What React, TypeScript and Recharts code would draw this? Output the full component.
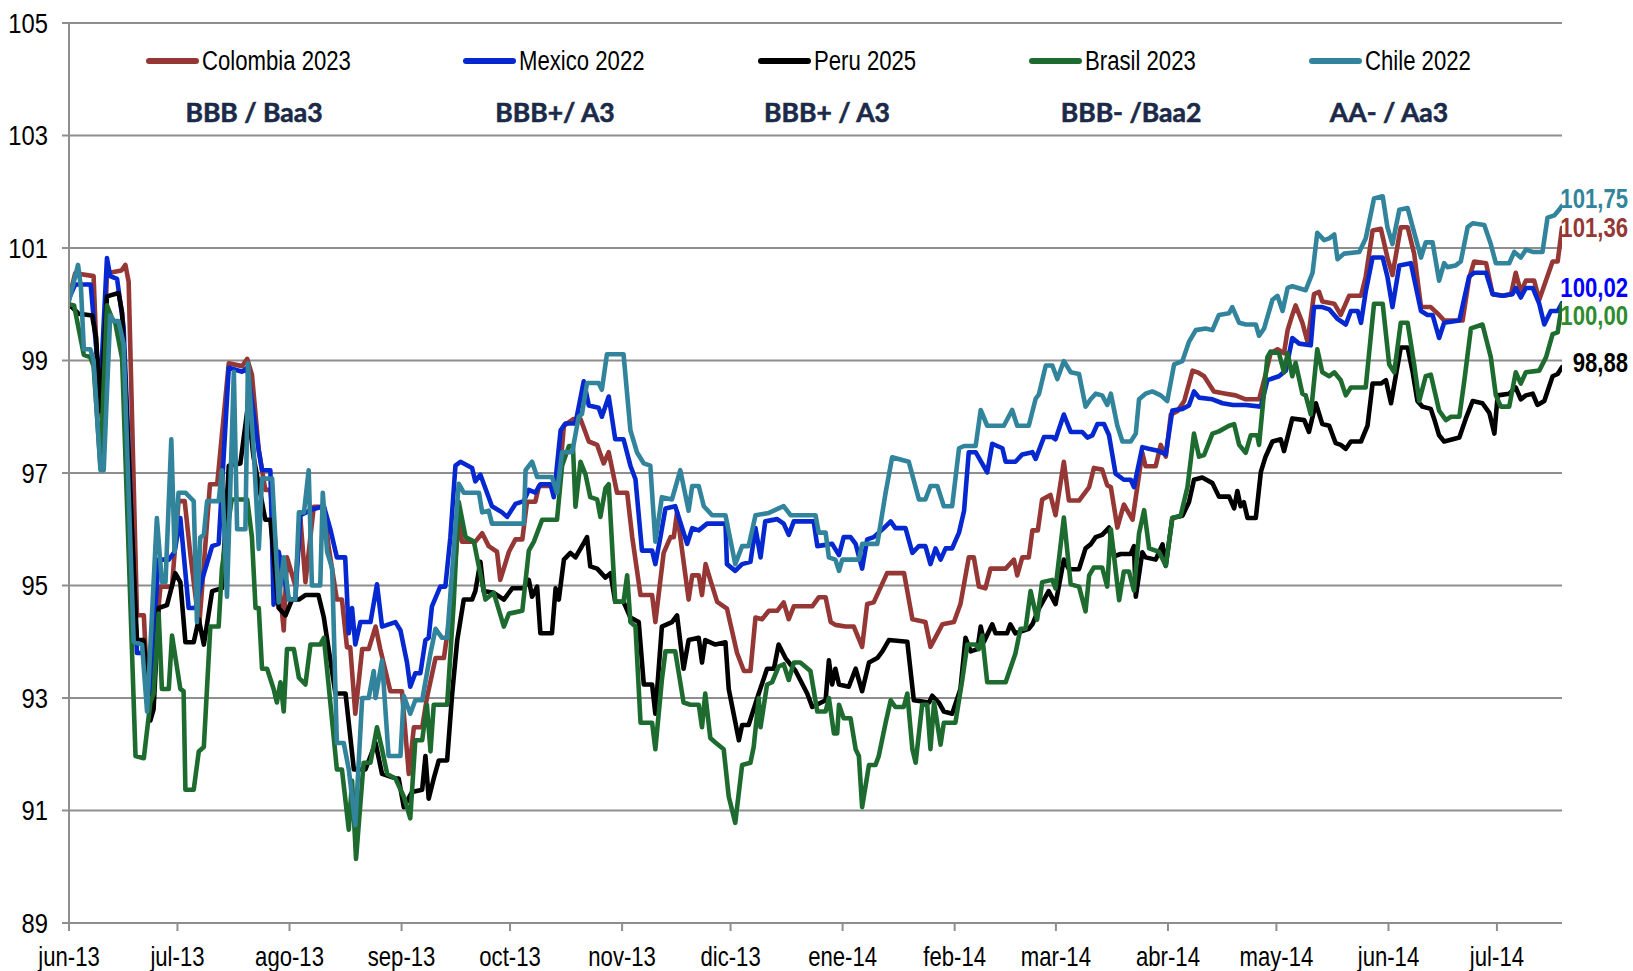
import React from "react";
import { LineChart, Line, XAxis, YAxis, CartesianGrid, LabelList } from "recharts";

const W = 1633;
const H = 971;
const SANS = "'Liberation Sans', Arial, sans-serif";
const NARROW_SCALE = 0.82;

type P = [number, number];

// x = days since 1 jun 2013
const monthTicks = [0, 30, 61, 92, 122, 153, 183, 214, 245, 273, 304, 334, 365, 395];
const monthLabels = ["jun-13", "jul-13", "ago-13", "sep-13", "oct-13", "nov-13", "dic-13", "ene-14", "feb-14", "mar-14", "abr-14", "may-14", "jun-14", "jul-14"];
const yTicks = [89, 91, 93, 95, 97, 99, 101, 103, 105];

const seriesNames = ["Colombia 2023", "Mexico 2022", "Peru 2025", "Brasil 2023", "Chile 2022"];
const ratingLabels = ["BBB / Baa3", "BBB+/ A3", "BBB+ / A3", "BBB- /Baa2", "AA- / Aa3"];

const colombia: P[] = [[0,100.1],[1.7,100.55],[6.8,100.5],[7.7,99.0],[9,98.0],[10.5,100.55],[14.5,100.6],[15.6,100.7],[16.5,100.4],[18.8,94.47],[20.7,94.47],[22,92.76],[25.3,94.98],[28.5,94.98],[30.3,96.5],[32,96.5],[33.6,95.54],[36,94.27],[39,96.8],[41,96.8],[44.2,98.95],[47.9,98.9],[49.3,99.03],[50.6,98.75],[52.5,97.4],[54.3,96.7],[55.7,96.7],[59.4,94.2],[60.3,95.5],[62.6,95.0],[64,96.2],[65.4,95.06],[67.7,96.4],[70.5,96.4],[71.8,95.7],[74.1,94.75],[75.5,94.75],[76.9,93.9],[77.8,93.9],[79.2,92.72],[81.1,93.87],[82.9,93.87],[84.8,94.27],[86.1,93.87],[88.9,93.12],[92.1,93.12],[94,91.65],[95.4,92.48],[97.7,92.48],[99,93.0],[101.4,93.71],[103.7,93.71],[106,94.75],[107.8,96.17],[108.7,95.78],[112.4,95.78],[114.3,95.93],[116.1,95.7],[118.4,95.6],[119.3,95.1],[121.7,95.6],[123.5,95.82],[125.4,95.82],[126.7,96.49],[129,96.49],[130,96.77],[133.6,96.77],[135.5,96.8],[136.9,97.84],[139.6,97.96],[141.5,97.96],[143.8,97.56],[146.1,97.5],[147.9,97.17],[149.3,97.37],[151.6,96.65],[154.4,96.65],[155.8,95.86],[158.1,94.83],[161.3,94.83],[162.2,94.35],[164.5,95.58],[166.4,95.86],[167.3,95.86],[168.2,96.3],[171.4,94.75],[172.4,95.18],[174.2,95.18],[175.1,94.83],[176.1,95.38],[177.4,95.1],[179.3,94.71],[182,94.59],[184.8,93.8],[186.7,93.48],[188.5,93.48],[189.9,94.43],[191.7,94.4],[193.6,94.55],[195.9,94.55],[197.7,94.7],[199.1,94.4],[200.5,94.63],[205.6,94.63],[207.4,94.79],[209.3,94.79],[210.7,94.35],[212,94.3],[214.8,94.27],[217.1,94.27],[219.4,93.91],[220.8,94.67],[222.6,94.7],[226.3,95.22],[231,95.22],[233.3,94.4],[236.9,94.35],[238.3,93.91],[241.6,94.31],[244.8,94.35],[246.6,94.67],[248.9,95.5],[250.3,95.5],[251.7,94.98],[253.5,94.95],[254.9,95.3],[259.1,95.3],[261.4,95.46],[262.3,95.18],[263.7,95.5],[265.5,95.5],[266.5,95.98],[268,95.98],[269.2,96.53],[271.5,96.61],[272.9,96.25],[275.2,97.2],[276.6,96.51],[279.4,96.51],[282.2,96.75],[283.5,97.09],[285.8,97.06],[287.2,96.78],[288.2,96.75],[290,96.03],[291.8,96.44],[294.2,96.17],[296.9,97.36],[297.8,97.12],[300.6,97.12],[302,97.5],[303.4,97.29],[304.8,98.04],[306.6,98.1],[308.5,98.28],[310.8,98.82],[312.2,98.79],[314,98.72],[316.7,98.45],[320,98.41],[322.7,98.38],[325.5,98.31],[329.2,98.31],[330.6,98.65],[332.4,99.13],[334.3,99.2],[336.1,99.13],[337.1,99.54],[338.4,99.81],[339.3,99.98],[341.2,99.67],[342.6,99.33],[344.4,100.18],[345.8,100.22],[346.7,100.05],[350,100.01],[351.8,99.81],[354.1,100.15],[357.4,100.15],[358.7,100.49],[360.6,101.31],[362.9,101.34],[364.7,100.83],[366.1,100.52],[368.4,101.37],[370.3,101.37],[372.1,100.9],[374,99.95],[376.7,99.95],[379,99.81],[380.4,99.71],[385.5,99.71],[387.3,100.46],[388.7,100.76],[392,100.73],[393.8,100.18],[396.6,100.15],[398.9,100.18],[400.2,100.56],[401.6,100.22],[403,100.42],[405.3,100.42],[406.7,100.08],[410.4,100.76],[411.8,100.76],[413,101.36]];

const mexico: P[] = [[0,100.1],[1.7,100.35],[6,100.35],[7.7,99.1],[8.7,98.5],[10.5,100.82],[11.4,100.5],[13.3,100.45],[15.1,99.6],[18.8,93.8],[21,93.8],[22,92.85],[24.8,95.46],[27.6,95.46],[29.2,95.6],[30.8,96.2],[33.1,94.6],[35,94.6],[36.8,95.1],[39.6,95.7],[41.4,95.74],[44.2,98.87],[47.9,98.8],[49.3,98.87],[52.5,97.4],[53.4,97.05],[55.7,97.05],[56.6,94.66],[58,95.6],[60.8,94.75],[62.6,94.75],[64,96.25],[67.2,96.35],[70.5,96.41],[72.3,96.0],[74.1,95.5],[76.4,95.5],[77.4,94.15],[78.3,94.6],[79.2,93.95],[80.6,94.35],[83.4,94.35],[85.2,95.02],[86.6,94.27],[90.3,94.35],[91.7,94.2],[93.5,93.63],[94.4,93.2],[95.8,93.44],[97.2,93.44],[98.6,94.03],[99.5,94.07],[100.4,94.63],[102.7,94.98],[104.1,94.98],[105.5,95.86],[106.9,97.13],[108.3,97.2],[111.5,97.09],[112.4,96.85],[113.8,96.97],[117,96.41],[119.8,96.3],[121.2,96.22],[123.5,96.45],[125.8,96.5],[127.2,96.7],[129,96.65],[130.4,96.8],[133.2,96.8],[134.1,96.57],[136,97.76],[137.3,97.88],[140.1,97.88],[142.4,98.63],[143.8,98.2],[146.5,98.16],[147.4,98.0],[149.3,98.36],[151.1,97.6],[153.4,97.6],[155.3,97.13],[156.7,96.89],[158.5,95.62],[161.3,95.62],[162.2,95.38],[163.6,95.86],[165,96.37],[167.7,96.41],[171,95.74],[172.4,96.02],[174.2,95.98],[176.5,96.1],[181.6,96.1],[182,95.38],[184.3,95.26],[186.2,95.38],[188.5,95.42],[189.9,96.02],[191.3,95.5],[192.6,96.14],[195.9,96.18],[197.7,96.1],[199.1,95.9],[200.5,96.14],[206,96.14],[207,95.7],[211.1,95.74],[213,95.54],[214.3,95.86],[216.2,95.86],[217.6,95.74],[219.4,95.3],[220.8,95.82],[222.6,95.86],[225.4,96.02],[227.3,96.14],[228.6,96.02],[231.4,96.02],[233.3,95.58],[235.1,95.7],[236.9,95.7],[238.3,95.38],[239.7,95.66],[241.1,95.46],[242.5,95.66],[244.3,95.66],[246.2,95.94],[247.6,96.33],[248.9,97.37],[250.8,97.37],[254,97.01],[255.4,97.52],[258.2,97.44],[259.1,97.2],[261.8,97.2],[263.7,97.33],[266.5,97.37],[267.4,97.25],[269.7,97.64],[272,97.64],[272.9,97.6],[275.2,98.04],[277.1,97.73],[280.3,97.73],[281.7,97.63],[283.1,97.67],[284.5,97.87],[286.3,97.87],[287.7,97.67],[289.5,96.99],[291.8,96.88],[293.7,96.88],[294.6,96.75],[296.9,97.46],[298.7,97.43],[301.5,97.39],[303.4,97.33],[305.2,98.11],[308,98.14],[309.8,98.2],[311.2,98.45],[312.6,98.34],[316.3,98.31],[319.1,98.24],[322,98.21],[325.5,98.21],[329.7,98.18],[331.5,98.65],[334.7,98.72],[336.6,98.82],[338.4,99.4],[340.3,99.3],[343.5,99.27],[344.4,99.95],[346.7,99.95],[348.6,99.91],[350.9,99.74],[353.2,99.64],[354.6,99.88],[356.5,99.88],[357.4,99.67],[358.7,100.22],[360.6,100.83],[363.4,100.83],[364.7,100.49],[366.1,99.95],[368,100.69],[371.2,100.73],[374,99.88],[375.8,99.81],[377.2,99.81],[379,99.4],[380.4,99.67],[384.6,99.71],[387.3,100.49],[388.7,100.56],[392,100.56],[393.8,100.18],[396.6,100.15],[399.3,100.18],[400.2,100.29],[401.6,100.12],[403,100.29],[404.9,100.29],[406.7,100.01],[408.1,99.64],[409.9,99.88],[411.8,99.88],[413,100.02]];

const peru: P[] = [[0,100.0],[2.7,99.83],[6.4,99.8],[7.5,99.4],[8.7,98.1],[10.5,100.14],[13.7,100.2],[14.7,99.85],[18.8,94.03],[20.7,94.03],[22.5,92.6],[23.4,92.8],[24.8,94.6],[27.1,94.65],[29.4,95.22],[30.8,95.06],[32.2,93.99],[34.5,93.99],[35.9,94.4],[37.3,93.95],[39.6,94.9],[42.3,94.95],[44.2,97.13],[47.4,97.17],[49.5,98.2],[51,97.3],[54.3,96.17],[55.7,96.17],[58,94.6],[59.9,94.47],[61.7,94.75],[63.6,94.75],[65.4,94.83],[69,94.83],[70.5,94.43],[73.7,93.08],[76.5,93.08],[78.8,91.73],[82,91.73],[84.8,92.2],[86.6,91.65],[90.3,91.57],[91.2,91.57],[92.6,91.06],[94.9,91.33],[97.7,91.37],[98.6,91.97],[99.5,91.21],[100.9,91.57],[102.3,91.89],[104.6,91.89],[106,93.08],[107.4,94.03],[109.2,94.75],[111.5,94.75],[112.4,94.9],[113.8,95.42],[114.7,94.9],[117.5,94.87],[120.3,94.75],[122.6,94.95],[125.8,94.95],[127.2,95.1],[128.1,94.8],[129.5,94.98],[130.4,94.15],[133.6,94.15],[134.6,94.95],[135.5,94.75],[136.9,95.46],[138.7,95.58],[140.1,95.5],[141.9,95.7],[143.3,95.86],[144.2,95.34],[146.1,95.3],[148.4,95.14],[149.8,95.22],[151.1,94.71],[153.4,94.71],[155.3,94.43],[157.6,94.35],[159,93.24],[161.3,93.24],[162.2,92.72],[164,94.27],[166.8,94.35],[168.2,94.47],[170,93.52],[171.4,94.03],[174.2,94.07],[175.1,93.63],[176,94.03],[178.8,93.95],[181.6,93.99],[182.5,93.16],[185.3,92.25],[186.2,92.52],[188,92.52],[190.8,93.08],[193.1,93.52],[195,93.52],[196.3,93.95],[198.2,93.71],[201,93.48],[204.2,93.08],[205.6,92.84],[209.3,92.96],[210.2,93.67],[211.1,93.24],[212,93.52],[213,93.24],[215.7,93.2],[217.6,93.52],[219.4,93.12],[221.3,93.63],[223.6,93.71],[225,93.83],[226.8,94.03],[231.9,94.0],[233.7,92.96],[237.9,92.92],[238.8,93.04],[240.6,92.92],[242,92.76],[244.3,92.72],[246.6,93.16],[248,94.07],[249.4,93.83],[251.3,93.87],[252.2,94.27],[253.1,94.0],[255.4,94.31],[256.3,94.15],[259.5,94.15],[260.4,94.31],[261.8,94.15],[265.5,94.23],[266.5,94.31],[268.3,94.59],[271,94.9],[272.9,94.67],[275.2,95.46],[276.6,95.29],[279.4,95.29],[281.2,95.66],[282.6,95.73],[284,95.86],[285.8,95.9],[287.7,96.03],[289.1,95.52],[290.9,95.56],[293.7,95.56],[294.6,95.7],[295.1,94.8],[296.9,95.59],[297.8,95.5],[300.6,95.46],[302.5,95.73],[303.4,95.35],[305.2,96.2],[308,96.24],[309.8,96.48],[311.2,96.88],[313.5,96.92],[316.3,96.82],[318.1,96.58],[320.9,96.58],[322.3,96.37],[323.2,96.68],[324.1,96.41],[325,96.48],[326,96.2],[328.3,96.2],[329.7,97.02],[331,97.29],[332.9,97.56],[335.2,97.6],[336.1,97.39],[338.4,97.97],[341.7,97.94],[343,97.73],[344.9,98.24],[346.7,97.87],[348.6,97.84],[350.4,97.53],[351.8,97.5],[353.2,97.43],[354.6,97.56],[357.4,97.56],[359.2,97.84],[360.6,98.59],[362.9,98.59],[364.3,98.65],[365.7,98.24],[367,98.72],[368.4,99.23],[370.3,99.23],[371.7,98.79],[373,98.28],[374.4,98.18],[376.7,98.14],[377.6,97.97],[379,97.67],[380.4,97.56],[384.6,97.63],[386.4,97.97],[388.3,98.28],[391,98.24],[392.9,98.07],[394.3,97.7],[395.2,98.38],[398.4,98.41],[400.2,98.52],[401.6,98.31],[403,98.38],[404.9,98.41],[406.2,98.21],[408.1,98.28],[410.4,98.72],[411.8,98.76],[413,98.88]];

const brasil: P[] = [[0,100.0],[1.4,99.98],[4.1,99.1],[5.9,99.06],[6.8,98.9],[8.7,97.13],[10.5,99.98],[11.9,99.75],[12.8,99.67],[14.7,99.03],[18.4,91.97],[20.7,91.93],[22.5,92.92],[23.4,93.08],[24.8,94.5],[25.7,93.16],[27.6,93.16],[28.5,94.11],[30.8,93.16],[31.7,93.12],[32.2,91.37],[34.5,91.37],[35.9,92.05],[37.3,92.13],[39.1,94.27],[41.4,94.27],[42.3,95.3],[45,96.53],[49.3,96.53],[50.6,95.86],[51.6,94.6],[52.5,94.6],[53.4,93.52],[54.8,93.52],[56.6,93.16],[57.5,92.92],[58.5,93.28],[59.4,92.76],[60.3,93.87],[62.2,93.87],[63.6,93.36],[65.4,93.24],[66.8,93.95],[69.5,93.95],[70.5,94.07],[71.8,93.24],[74.1,91.73],[75.5,91.73],[77.4,90.66],[78.3,91.53],[79.4,90.14],[81.5,91.85],[83.4,91.85],[85.2,92.48],[86.6,92.09],[88,91.65],[90.3,91.57],[92.6,91.25],[94.4,90.86],[95.8,92.25],[97.7,92.25],[99,92.88],[100,92.05],[100.9,92.88],[104.6,92.88],[106.4,94.67],[107.8,96.49],[109.7,95.86],[112,95.78],[115.2,94.75],[117.5,94.87],[120.3,94.27],[121.7,94.5],[125.4,94.55],[127.2,95.62],[128.6,95.78],[130.9,96.17],[135,96.17],[136.4,97.13],[138.3,97.48],[139.4,97.48],[140.1,96.4],[141.5,97.2],[142.9,96.97],[144.2,96.57],[146.1,96.53],[147,96.22],[148.4,96.73],[149.3,96.8],[151.1,94.71],[153.4,94.71],[154.4,95.18],[155.3,94.35],[156.7,94.27],[158.1,92.56],[161.3,92.56],[162.2,92.09],[164,93.32],[165,93.83],[167.7,93.83],[170,92.92],[171.9,92.88],[174.2,92.88],[175.1,92.48],[176,93.08],[177.4,92.29],[178.8,92.21],[181.1,92.09],[182.5,91.25],[184.3,90.78],[186.2,91.81],[188.5,91.85],[189.4,92.13],[190.8,93.0],[191.3,92.48],[193.1,93.24],[194.5,93.28],[196.3,93.56],[197.7,93.6],[199.1,93.32],[200.5,93.63],[202.3,93.63],[205.1,93.48],[207,92.76],[209.3,92.76],[210.2,93.0],[211.6,92.37],[212.5,92.37],[213,92.88],[214.3,92.64],[216.2,92.64],[217.6,92.09],[218.5,91.97],[219.4,91.06],[221.3,91.81],[223.1,91.81],[224,91.97],[225.9,92.56],[227.3,92.96],[228.6,92.84],[230.9,92.84],[231.9,93.08],[233.3,92.09],[234.2,91.85],[236,92.88],[237.4,92.88],[238.3,92.09],[239.3,92.92],[241.1,92.17],[242,92.56],[245.2,92.56],[247.1,93.32],[248.5,93.95],[250.8,93.95],[251.7,93.87],[252.6,94.11],[254,93.28],[259.1,93.28],[261.8,93.79],[263.2,94.23],[264.6,94.23],[266,94.9],[267.8,94.39],[269.2,95.06],[272,95.1],[272.9,94.95],[275.2,96.21],[277.1,95.02],[279.4,94.98],[281.2,94.54],[282.2,95.18],[283.5,95.32],[285.8,95.32],[287.2,94.98],[288.2,96.0],[290.5,94.74],[291.8,95.25],[293.2,95.25],[294.6,94.91],[296,95.93],[297.4,96.34],[298.8,95.66],[301.5,95.6],[303.4,95.35],[305.2,96.2],[307.5,96.24],[309.4,96.75],[311.2,97.7],[312.6,97.29],[314,97.32],[316.3,97.7],[318.1,97.74],[320.9,97.84],[322.3,97.87],[323.7,97.5],[325.5,97.36],[326.9,97.67],[328.7,97.67],[329.2,97.5],[331.5,99.06],[332.4,99.16],[334.7,99.13],[336.1,98.79],[337.1,99.13],[338.4,98.72],[339.3,98.96],[341.2,98.41],[342.1,98.38],[343.5,98.04],[345.3,99.2],[346.7,98.79],[348.6,98.72],[350,98.79],[351.8,98.65],[353.2,98.38],[354.6,98.52],[358.7,98.52],[361,100.01],[363.4,100.01],[365.2,98.93],[366.6,98.79],[368.4,99.67],[370.3,99.67],[372.1,98.93],[373.5,98.28],[375.3,98.72],[376.7,98.75],[379,98.11],[380.9,97.94],[382.3,98.0],[384.6,98.0],[386,98.65],[387.8,99.57],[391,99.64],[393.3,99.06],[394.7,98.38],[396.1,98.18],[398.4,98.18],[400.2,98.79],[401.6,98.59],[403,98.79],[406.7,98.82],[408.6,99.06],[410.4,99.47],[411.8,99.5],[413,100.0]];

const chile: P[] = [[0,100.06],[2.5,100.7],[3.3,100.3],[4.1,99.2],[5.9,99.2],[6.8,99.0],[8.7,97.05],[9.6,97.05],[11.4,99.8],[12.4,99.7],[13.7,99.7],[15.1,99.3],[17.9,94.0],[20.2,93.95],[21.6,92.76],[24.3,96.2],[25.7,95.06],[26.7,95.06],[28.3,97.6],[29.2,95.6],[30.3,96.65],[32.2,96.65],[34.5,96.5],[35.4,94.35],[36.3,95.85],[37.3,95.9],[38.2,96.5],[41.4,96.5],[42.3,97.05],[43.7,94.8],[45.6,98.8],[46.5,96.0],[48.8,96.0],[49.5,98.95],[51.1,97.4],[52.5,95.65],[53.4,96.9],[56.2,96.9],[58,94.7],[59.4,95.5],[60.8,94.75],[62.6,94.75],[63.6,96.3],[65,96.3],[66.3,97.05],[67.2,95.0],[69.5,95.0],[70.2,96.65],[71.4,95.6],[72.8,95.3],[74.1,92.2],[76,92.2],[77.4,91.73],[79.2,90.74],[81.1,93.0],[82.9,93.0],[84.3,93.48],[84.8,93.0],[86.6,93.67],[88.4,91.97],[91.7,91.97],[92.6,93.04],[94.4,92.72],[95.8,92.96],[97.7,92.96],[100,93.8],[101.4,94.23],[103.2,94.07],[104.6,94.07],[107.8,96.81],[109.2,96.65],[113.4,96.65],[114.3,96.3],[116.1,96.33],[117,96.1],[125.8,96.1],[126.3,97.05],[128.1,97.2],[129.5,96.93],[133.6,96.93],[135,96.65],[136.4,97.37],[139.2,97.37],[141,98.0],[141.9,98.05],[143.3,98.6],[146.5,98.6],[147.4,98.48],[148.8,99.11],[153.4,99.11],[155.3,97.76],[157.1,97.37],[159,97.17],[160.8,97.13],[162.2,95.78],[164,96.57],[166.8,96.53],[169.1,97.05],[171.4,96.33],[172.4,96.77],[174.2,96.77],[175.6,96.41],[177.9,96.25],[181.6,96.25],[184.3,95.38],[186.2,95.7],[188,95.7],[189.9,96.25],[193.6,96.29],[196.3,96.37],[197.7,96.41],[199.6,96.25],[206.5,96.25],[207.4,95.94],[209.3,95.94],[210.2,95.5],[212,95.46],[213,95.26],[213.9,95.46],[218.5,95.46],[219.4,95.74],[223.6,95.74],[225.9,96.65],[227.7,97.28],[232.3,97.2],[235.1,96.53],[236.9,96.53],[238.3,96.77],[240.2,96.77],[242,96.41],[244.3,96.41],[246.2,97.44],[247.6,97.48],[250.8,97.48],[252.2,98.12],[254,97.84],[258.6,97.84],[260.9,98.12],[262.3,97.84],[265.5,97.84],[267.4,98.32],[268.3,98.4],[270.2,98.91],[272,98.91],[273.4,98.67],[275.2,98.99],[277.1,98.79],[279.4,98.76],[281.2,98.18],[282.6,98.31],[284,98.41],[285.8,98.38],[287.2,98.21],[288.2,98.41],[290,97.84],[291.4,97.56],[293.7,97.56],[295.1,97.7],[296,98.31],[297.8,98.41],[299.7,98.45],[302,98.38],[303.8,98.28],[305.7,98.93],[308,98.99],[309.8,99.33],[311.7,99.54],[314.4,99.57],[316.3,99.54],[318.1,99.81],[320.9,99.84],[321.8,99.95],[323.7,99.67],[325.5,99.64],[328.3,99.64],[329.2,99.44],[330.6,99.57],[332.9,100.08],[334.3,100.15],[335.7,99.88],[337.1,100.29],[338.4,100.32],[342.1,100.25],[344,100.56],[345.3,101.27],[347.2,101.14],[348.6,101.17],[350,101.24],[350.9,100.8],[352.7,100.9],[356.9,100.93],[358.7,101.17],[361,101.88],[363.4,101.92],[364.7,101.37],[366.1,101.07],[368,101.68],[370.3,101.71],[371.7,101.37],[374,100.83],[375.3,101.1],[377.2,101.1],[379,100.42],[380.4,100.73],[381.3,100.66],[383.6,100.69],[385,100.76],[386.9,101.37],[388.3,101.44],[391.5,101.41],[393.3,101.07],[394.7,100.73],[398.4,100.73],[399.8,100.93],[401.6,100.83],[403,100.97],[404.9,100.93],[407.6,100.93],[409,101.54],[410.9,101.58],[412.2,101.68],[413,101.75]];

const allSeries = [colombia, mexico, peru, brasil, chile];
const lineColors = ["#953735", "#0628D0", "#000000", "#1E6B30", "#31849B"];
const endLabelColors = ["#953735", "#0000FF", "#000000", "#2F8B2F", "#31849B"];
const endLabelDy = [0, -16, -5, 11, -8];
const legendX = [146, 463, 758, 1029, 1309];
const ratingX = [254, 555, 827, 1131, 1389];

const GRID = "#8e8e8e";

const toRows = (pts: P[]) => pts.map(([d, v]) => ({ d, v }));
const fmt = (v: number) => v.toFixed(2).replace(".", ",");

function NarrowText(props: { x: number; y: number; anchor: "start" | "middle" | "end"; dy: number; size: number; bold?: boolean; fill: string; scale?: number; children: React.ReactNode }) {
  return (
    <g transform={`translate(${props.x},${props.y})`}>
      <text
        transform={`scale(${props.scale ?? NARROW_SCALE},1)`}
        textAnchor={props.anchor}
        y={props.dy}
        fontSize={props.size}
        fontWeight={props.bold ? "bold" : "normal"}
        fontFamily={SANS}
        fill={props.fill}
      >
        {props.children}
      </text>
    </g>
  );
}

const XTick = (p: any) => (
  <NarrowText x={p.x} y={p.y} anchor="middle" dy={31} size={27} fill="#000">
    {monthLabels[monthTicks.indexOf(p.payload.value)]}
  </NarrowText>
);

const YTick = (p: any) => (
  <NarrowText x={p.x} y={p.y} anchor="end" dy={9.7} size={27} scale={0.88} fill="#000">
    {p.payload.value}
  </NarrowText>
);

export default function App() {
  return (
    <div style={{ position: "relative", width: W, height: H, background: "#fff", overflow: "hidden" }}>
      <style>{`html,body{margin:0;padding:0;background:#fff}`}</style>
      <LineChart width={W} height={H} margin={{ top: 23, right: 71, left: 0, bottom: 0 }}>
        <CartesianGrid horizontal vertical={false} stroke={GRID} strokeWidth={2} />
        <XAxis
          dataKey="d"
          type="number"
          domain={[0, 413]}
          ticks={monthTicks}
          interval={0}
          allowDataOverflow
          height={48}
          axisLine={{ stroke: GRID, strokeWidth: 2 }}
          tickLine={{ stroke: GRID, strokeWidth: 2 }}
          tickSize={8}
          tickMargin={4}
          tick={XTick}
        />
        <YAxis
          type="number"
          domain={[89, 105]}
          ticks={yTicks}
          interval={0}
          allowDataOverflow
          width={69}
          axisLine={{ stroke: GRID, strokeWidth: 2 }}
          tickLine={{ stroke: GRID, strokeWidth: 2 }}
          tickSize={7}
          tickMargin={14}
          tick={YTick}
        />
        {allSeries.map((pts, i) => (
          <Line
            key={seriesNames[i]}
            name={seriesNames[i]}
            data={toRows(pts)}
            dataKey="v"
            type="linear"
            stroke={lineColors[i]}
            strokeWidth={4.6}
            strokeLinejoin="round"
            strokeLinecap="round"
            dot={false}
            activeDot={false}
            isAnimationActive={false}
          >
            <LabelList
              dataKey="v"
              content={(p: any) => {
                if (p.index !== pts.length - 1) return null;
                return (
                  <NarrowText x={Number(p.x) + 66} y={Number(p.y) + endLabelDy[i]} anchor="end" dy={9.7} size={27} bold fill={endLabelColors[i]}>
                    {fmt(pts[pts.length - 1][1])}
                  </NarrowText>
                );
              }}
            />
          </Line>
        ))}
      </LineChart>
      {seriesNames.map((name, i) => (
        <div
          key={name}
          style={{ position: "absolute", left: legendX[i], top: 44, height: 34, display: "flex", alignItems: "center", fontFamily: SANS, fontSize: 27, color: "#000", whiteSpace: "nowrap" }}
        >
          <span style={{ display: "inline-block", width: 53, height: 6, borderRadius: 3, background: lineColors[i], marginRight: 3, flex: "none" }} />
          <span style={{ display: "inline-block", transform: `scaleX(${NARROW_SCALE})`, transformOrigin: "left center" }}>{name}</span>
        </div>
      ))}
      {ratingLabels.map((r, i) => (
        <div
          key={r}
          style={{ position: "absolute", left: ratingX[i] - 150, width: 300, top: 94, height: 36, lineHeight: "36px", textAlign: "center", fontFamily: "Lato, 'Open Sans', sans-serif", fontWeight: 700, fontSize: 26.5, color: "#1B2A48", whiteSpace: "nowrap", WebkitTextStroke: "0.6px #1B2A48" }}
        >
          {r}
        </div>
      ))}
    </div>
  );
}
